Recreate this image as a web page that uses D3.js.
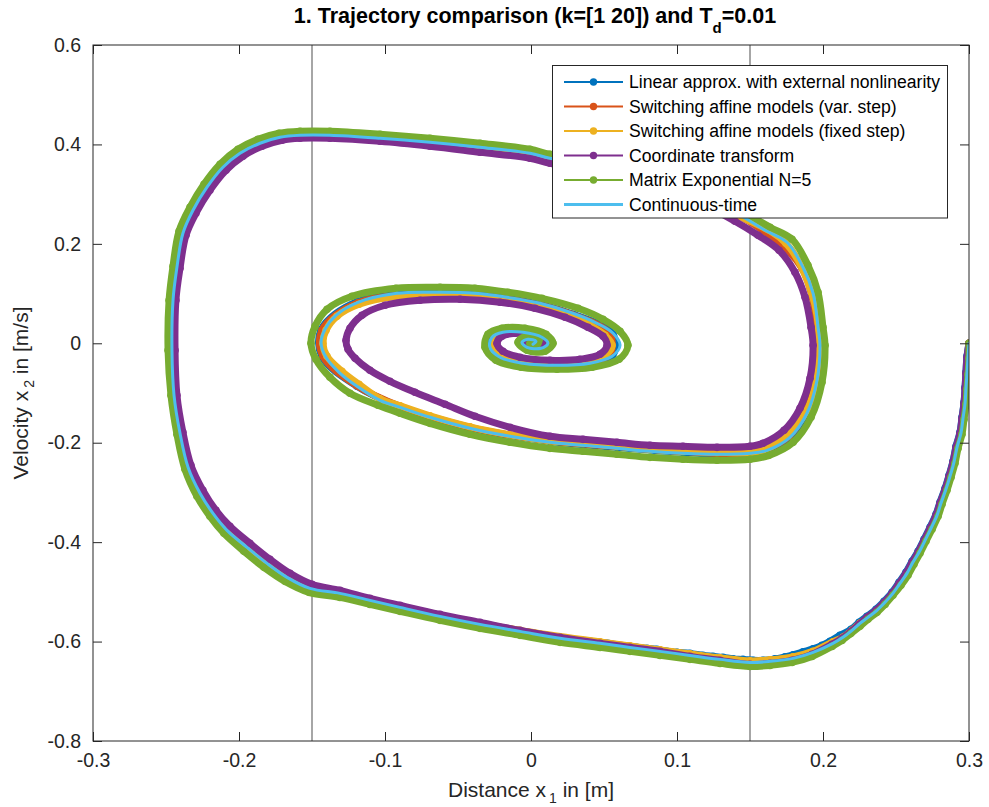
<!DOCTYPE html>
<html>
<head>
<meta charset="utf-8">
<script src="https://cdn.jsdelivr.net/npm/d3@7"></script>
<style>
  body { margin: 0; background: #fff; }
  svg { display: block; }
  text { font-family: "Liberation Sans", Arial, Helvetica, sans-serif; }
</style>
</head>
<body>
<svg id="chart" width="989" height="807"></svg>
<script>
// Axis ticks and labels
const xTicks = [-0.3, -0.2, -0.1, 0, 0.1, 0.2, 0.3];
const xTickLabels = ["-0.3", "-0.2", "-0.1", "0", "0.1", "0.2", "0.3"];
const yTicks = [-0.8, -0.6, -0.4, -0.2, 0, 0.2, 0.4, 0.6];
const yTickLabels = ["-0.8", "-0.6", "-0.4", "-0.2", "0", "0.2", "0.4", "0.6"];
// Switching boundaries of the affine models (x1 = +/-0.15 m)
const switchLines = [-0.15, 0.15];

const seriesNames = [
  "Linear approx. with external nonlinearity",
  "Switching affine models (var. step)",
  "Switching affine models (fixed step)",
  "Coordinate transform",
  "Matrix Exponential N=5",
  "Continuous-time"
];
const seriesColors = ["#0072BD", "#D95319", "#EDB120", "#7E2F8E", "#77AC30", "#4DBEEE"];

// State trajectories [x1, x2] (distance, velocity)
const linearApprox = [
  [0.3000,0.0000],[0.2986,-0.0262],[0.2979,-0.0584],[0.2973,-0.0885],[0.2966,-0.1187],[0.2952,-0.1489],
  [0.2938,-0.1791],[0.2911,-0.2073],[0.2890,-0.2374],[0.2863,-0.2656],[0.2836,-0.2918],[0.2801,-0.3199],
  [0.2774,-0.3441],[0.2733,-0.3702],[0.2692,-0.3944],[0.2651,-0.4185],[0.2610,-0.4386],[0.2568,-0.4608],
  [0.2521,-0.4809],[0.2473,-0.5010],[0.2418,-0.5191],[0.2363,-0.5352],[0.2301,-0.5493],[0.2247,-0.5614],
  [0.2192,-0.5755],[0.2116,-0.5875],[0.2048,-0.5996],[0.1993,-0.6077],[0.1932,-0.6147],[0.1863,-0.6207],
  [0.1795,-0.6268],[0.1740,-0.6308],[0.1671,-0.6348],[0.1589,-0.6378],[0.1521,-0.6378],[0.1452,-0.6358],
  [0.1384,-0.6348],[0.1315,-0.6318],[0.1247,-0.6298],[0.1178,-0.6278],[0.1089,-0.6237],[0.1000,-0.6217],
  [0.0932,-0.6197],[0.0863,-0.6157],[0.0795,-0.6137],[0.0726,-0.6117],[0.0658,-0.6097],[0.0596,-0.6076],
  [0.0527,-0.6036],[0.0199,-0.5915],[-0.0349,-0.5634],[-0.0897,-0.5292],[-0.1308,-0.5010],[-0.1671,-0.4708],
  [-0.1945,-0.4105],[-0.2178,-0.3421],[-0.2349,-0.2495],[-0.2445,-0.1046],[-0.2452,0.0865],[-0.2384,0.2213],
  [-0.2219,0.3139],[-0.1993,0.3823],[-0.1719,0.4145],[-0.1377,0.4185],[-0.0692,0.4044],[-0.0007,0.3823],
  [0.0473,0.3581],[0.1158,0.2978],[0.1603,0.2274],[0.1863,0.1529],[0.1966,0.0322],[0.1959,-0.0744],
  [0.1774,-0.1891],[0.1500,-0.2213],[0.1041,-0.2193],[0.0589,-0.2093],[0.0130,-0.1972],[-0.0418,-0.1700],
  [-0.0897,-0.1278],[-0.1192,-0.0865],[-0.1432,-0.0272],[-0.1438,0.0272],[-0.1192,0.0835],[-0.0623,0.1006],
  [-0.0164,0.0906],[0.0288,0.0584],[0.0562,0.0181],[0.0555,-0.0262],[0.0178,-0.0423],[-0.0212,-0.0262],
  [-0.0267,0.0121],[-0.0055,0.0201],[0.0116,0.0000],[-0.0027,-0.0080],[-0.0021,0.0080],[0.0014,-0.0020]
];

const affineVarStep = [
  [0.3000,0.0000],[0.2993,-0.0282],[0.2986,-0.0604],[0.2979,-0.0905],[0.2973,-0.1207],[0.2959,-0.1509],
  [0.2945,-0.1811],[0.2918,-0.2093],[0.2897,-0.2394],[0.2870,-0.2676],[0.2842,-0.2938],[0.2808,-0.3219],
  [0.2781,-0.3461],[0.2740,-0.3722],[0.2699,-0.3964],[0.2658,-0.4205],[0.2616,-0.4406],[0.2575,-0.4628],
  [0.2527,-0.4829],[0.2479,-0.5030],[0.2425,-0.5211],[0.2370,-0.5372],[0.2308,-0.5513],[0.2253,-0.5634],
  [0.2199,-0.5775],[0.2137,-0.5915],[0.2068,-0.6016],[0.1932,-0.6207],[0.1795,-0.6318],[0.1637,-0.6378],
  [0.1500,-0.6399],[0.1295,-0.6338],[0.1089,-0.6258],[0.0884,-0.6177],[0.0678,-0.6097],[0.0473,-0.6016],
  [0.0199,-0.5915],[-0.0349,-0.5634],[-0.0897,-0.5292],[-0.1308,-0.5010],[-0.1671,-0.4688],[-0.1945,-0.4085],
  [-0.2178,-0.3401],[-0.2349,-0.2475],[-0.2440,-0.1046],[-0.2447,0.0865],[-0.2378,0.2193],[-0.2212,0.3119],
  [-0.1986,0.3803],[-0.1719,0.4125],[-0.1377,0.4165],[-0.0692,0.4024],[-0.0007,0.3803],[0.0473,0.3561],
  [0.1151,0.2958],[0.1596,0.2254],[0.1856,0.1509],[0.1959,0.0322],[0.1952,-0.0744],[0.1767,-0.1871],
  [0.1500,-0.2193],[0.1041,-0.2173],[0.0589,-0.2073],[0.0130,-0.1962],[-0.0418,-0.1690],[-0.0897,-0.1268],
  [-0.1192,-0.0855],[-0.1425,-0.0262],[-0.1432,0.0262],[-0.1185,0.0815],[-0.0623,0.0986],[-0.0164,0.0886],
  [0.0274,0.0584],[0.0541,0.0181],[0.0534,-0.0241],[0.0171,-0.0402],[-0.0199,-0.0241],[-0.0253,0.0121],
  [-0.0048,0.0201],[0.0110,0.0000],[-0.0027,-0.0060],[-0.0014,0.0060],[0.0007,0.0000]
];

const affineFixedStep = [
  [0.3000,0.0000],[0.2993,-0.0282],[0.2986,-0.0604],[0.2979,-0.0905],[0.2973,-0.1207],[0.2959,-0.1509],
  [0.2945,-0.1811],[0.2918,-0.2093],[0.2897,-0.2394],[0.2870,-0.2676],[0.2842,-0.2938],[0.2808,-0.3219],
  [0.2781,-0.3461],[0.2740,-0.3722],[0.2699,-0.3964],[0.2658,-0.4205],[0.2616,-0.4406],[0.2575,-0.4628],
  [0.2527,-0.4829],[0.2479,-0.5030],[0.2425,-0.5211],[0.2370,-0.5372],[0.2308,-0.5513],[0.2253,-0.5634],
  [0.2199,-0.5775],[0.2137,-0.5915],[0.2068,-0.6006],[0.1932,-0.6197],[0.1795,-0.6308],[0.1637,-0.6368],
  [0.1500,-0.6389],[0.1295,-0.6328],[0.1089,-0.6248],[0.0884,-0.6167],[0.0678,-0.6087],[0.0473,-0.6006],
  [-0.0075,-0.5775],[-0.0623,-0.5473],[-0.1103,-0.5151],[-0.1514,-0.4910],[-0.1808,-0.4407],[-0.2082,-0.3743],
  [-0.2267,-0.2998],[-0.2404,-0.1791],[-0.2454,-0.0141],[-0.2420,0.1529],[-0.2310,0.2656],[-0.2105,0.3521],
  [-0.1851,0.4004],[-0.1582,0.4165],[-0.1034,0.4105],[-0.0349,0.3924],[0.0130,0.3702],[0.0815,0.3320],
  [0.1432,0.2555],[0.1746,0.2012],[0.1925,0.0986],[0.1972,-0.0040],[0.1883,-0.1388],[0.1609,-0.2133],
  [0.1274,-0.2193],[0.1041,-0.2173],[0.0815,-0.2133],[0.0589,-0.2073],[0.0356,-0.2012],[0.0130,-0.1962],
  [-0.0144,-0.1841],[-0.0418,-0.1680],[-0.0692,-0.1459],[-0.0897,-0.1258],[-0.1034,-0.1117],[-0.1178,-0.0825],
  [-0.1295,-0.0563],[-0.1397,-0.0262],[-0.1425,0.0000],[-0.1404,0.0262],[-0.1329,0.0543],[-0.1178,0.0785],
  [-0.0911,0.0946],[-0.0623,0.0966],[-0.0384,0.0946],[-0.0164,0.0865],[0.0048,0.0744],[0.0253,0.0563],
  [0.0404,0.0362],[0.0507,0.0161],[0.0555,-0.0040],[0.0507,-0.0241],[0.0370,-0.0362],[0.0164,-0.0382],
  [-0.0041,-0.0342],[-0.0192,-0.0221],[-0.0253,-0.0060],[-0.0240,0.0121],[-0.0171,0.0201],[-0.0048,0.0201],
  [0.0062,0.0121],[0.0103,0.0000],[0.0055,-0.0080],[-0.0027,-0.0060],[-0.0055,0.0020],[-0.0014,0.0080],
  [0.0027,0.0020],[0.0000,0.0000]
];

const coordTransform = [
  [0.3000,0.0000],[0.2986,-0.0282],[0.2979,-0.0604],[0.2973,-0.0905],[0.2966,-0.1207],[0.2952,-0.1509],
  [0.2938,-0.1811],[0.2911,-0.2093],[0.2890,-0.2394],[0.2863,-0.2676],[0.2836,-0.2938],[0.2801,-0.3219],
  [0.2774,-0.3461],[0.2733,-0.3722],[0.2692,-0.3964],[0.2651,-0.4205],[0.2610,-0.4406],[0.2568,-0.4628],
  [0.2521,-0.4829],[0.2473,-0.5030],[0.2418,-0.5211],[0.2363,-0.5372],[0.2301,-0.5513],[0.2247,-0.5654],
  [0.2192,-0.5795],[0.2130,-0.5936],[0.2062,-0.6056],[0.1925,-0.6258],[0.1788,-0.6378],[0.1637,-0.6439],
  [0.1500,-0.6459],[0.1295,-0.6378],[0.1089,-0.6298],[0.0884,-0.6197],[0.0678,-0.6117],[0.0473,-0.6036],
  [0.0199,-0.5915],[-0.0075,-0.5775],[-0.0349,-0.5614],[-0.0623,-0.5453],[-0.0897,-0.5272],[-0.1103,-0.5131],
  [-0.1308,-0.4970],[-0.1500,-0.4849],[-0.1651,-0.4628],[-0.1788,-0.4346],[-0.1925,-0.4024],[-0.2062,-0.3682],
  [-0.2158,-0.3360],[-0.2247,-0.2958],[-0.2329,-0.2455],[-0.2384,-0.1791],[-0.2425,-0.1046],[-0.2438,-0.0141],
  [-0.2432,0.0865],[-0.2404,0.1509],[-0.2363,0.2173],[-0.2295,0.2616],[-0.2199,0.3078],[-0.2089,0.3481],
  [-0.1973,0.3763],[-0.1842,0.3964],[-0.1705,0.4085],[-0.1582,0.4125],[-0.1377,0.4125],[-0.1034,0.4064],
  [-0.0692,0.3964],[-0.0349,0.3843],[-0.0007,0.3722],[0.0130,0.3622],[0.0473,0.3461],[0.0815,0.3199],
  [0.1137,0.2857],[0.1397,0.2455],[0.1555,0.2173],[0.1699,0.1871],[0.1808,0.1429],[0.1877,0.0926],
  [0.1918,0.0322],[0.1932,-0.0040],[0.1911,-0.0704],[0.1842,-0.1308],[0.1733,-0.1750],[0.1589,-0.2012],
  [0.1500,-0.2072],[0.1274,-0.2093],[0.1041,-0.2072],[0.0815,-0.2052],[0.0589,-0.1992],[0.0356,-0.1932],
  [0.0130,-0.1871],[-0.0144,-0.1690],[-0.0384,-0.1469],[-0.0589,-0.1227],[-0.0795,-0.0986],[-0.0966,-0.0765],
  [-0.1103,-0.0543],[-0.1205,-0.0302],[-0.1253,-0.0121],[-0.1267,0.0060],[-0.1240,0.0302],[-0.1158,0.0563],
  [-0.1000,0.0765],[-0.0760,0.0865],[-0.0486,0.0885],[-0.0212,0.0825],[0.0027,0.0704],[0.0233,0.0523],
  [0.0390,0.0322],[0.0493,0.0141],[0.0521,-0.0040],[0.0473,-0.0221],[0.0336,-0.0322],[0.0130,-0.0342],
  [-0.0075,-0.0282],[-0.0192,-0.0161],[-0.0233,0.0000],[-0.0199,0.0141],[-0.0110,0.0201],[0.0007,0.0181],
  [0.0082,0.0080],[0.0075,-0.0040],[0.0014,-0.0080],[-0.0027,-0.0020],[-0.0007,0.0060],[0.0034,0.0040],
  [0.0021,0.0000]
];

const matrixExp = [
  [0.3000,0.0000],[0.3000,-0.0302],[0.2993,-0.0624],[0.2986,-0.0926],[0.2979,-0.1227],[0.2966,-0.1529],
  [0.2952,-0.1831],[0.2925,-0.2113],[0.2904,-0.2414],[0.2877,-0.2696],[0.2849,-0.2958],[0.2815,-0.3239],
  [0.2788,-0.3481],[0.2747,-0.3742],[0.2705,-0.3984],[0.2664,-0.4225],[0.2623,-0.4447],[0.2582,-0.4668],
  [0.2534,-0.4869],[0.2479,-0.5070],[0.2425,-0.5252],[0.2370,-0.5412],[0.2308,-0.5553],[0.2253,-0.5694],
  [0.2192,-0.5835],[0.2130,-0.5976],[0.2062,-0.6097],[0.1925,-0.6298],[0.1788,-0.6419],[0.1637,-0.6479],
  [0.1500,-0.6499],[0.1295,-0.6439],[0.1089,-0.6358],[0.0884,-0.6278],[0.0678,-0.6197],[0.0473,-0.6117],
  [0.0199,-0.6016],[-0.0075,-0.5875],[-0.0349,-0.5734],[-0.0623,-0.5573],[-0.0897,-0.5392],[-0.1103,-0.5252],
  [-0.1308,-0.5111],[-0.1521,-0.5010],[-0.1685,-0.4789],[-0.1829,-0.4507],[-0.1966,-0.4185],[-0.2103,-0.3823],
  [-0.2199,-0.3481],[-0.2288,-0.3078],[-0.2370,-0.2535],[-0.2425,-0.1831],[-0.2466,-0.1046],[-0.2486,-0.0141],
  [-0.2479,0.0865],[-0.2452,0.1549],[-0.2411,0.2254],[-0.2336,0.2736],[-0.2240,0.3199],[-0.2130,0.3602],
  [-0.2007,0.3903],[-0.1870,0.4105],[-0.1726,0.4225],[-0.1582,0.4266],[-0.1377,0.4266],[-0.1034,0.4205],
  [-0.0692,0.4125],[-0.0349,0.4024],[-0.0007,0.3903],[0.0130,0.3803],[0.0473,0.3662],[0.0829,0.3421],
  [0.1178,0.3058],[0.1459,0.2636],[0.1637,0.2334],[0.1788,0.2093],[0.1897,0.1569],[0.1966,0.1026],
  [0.2000,0.0322],[0.2014,-0.0040],[0.1993,-0.0785],[0.1918,-0.1489],[0.1795,-0.1992],[0.1630,-0.2254],
  [0.1500,-0.2334],[0.1274,-0.2354],[0.1041,-0.2334],[0.0815,-0.2294],[0.0589,-0.2233],[0.0356,-0.2173],
  [0.0130,-0.2113],[-0.0144,-0.1992],[-0.0418,-0.1831],[-0.0692,-0.1610],[-0.0897,-0.1408],[-0.1048,-0.1247],
  [-0.1240,-0.1006],[-0.1377,-0.0684],[-0.1473,-0.0322],[-0.1507,0.0000],[-0.1479,0.0342],[-0.1397,0.0684],
  [-0.1226,0.0946],[-0.0925,0.1107],[-0.0623,0.1127],[-0.0384,0.1107],[-0.0158,0.1026],[0.0075,0.0905],
  [0.0322,0.0704],[0.0493,0.0483],[0.0610,0.0241],[0.0664,-0.0040],[0.0603,-0.0322],[0.0418,-0.0483],
  [0.0178,-0.0523],[-0.0068,-0.0483],[-0.0240,-0.0342],[-0.0315,-0.0080],[-0.0295,0.0181],[-0.0199,0.0302],
  [-0.0041,0.0302],[0.0103,0.0181],[0.0151,0.0000],[0.0096,-0.0161],[-0.0027,-0.0141],[-0.0089,0.0020],
  [-0.0034,0.0141],[0.0055,0.0080],[0.0034,-0.0060],[-0.0007,0.0000]
];

const continuousTime = [
  [0.3000,0.0000],[0.2993,-0.0282],[0.2986,-0.0604],[0.2979,-0.0905],[0.2973,-0.1207],[0.2959,-0.1509],
  [0.2945,-0.1811],[0.2918,-0.2093],[0.2897,-0.2394],[0.2870,-0.2676],[0.2842,-0.2938],[0.2808,-0.3219],
  [0.2781,-0.3461],[0.2740,-0.3722],[0.2699,-0.3964],[0.2658,-0.4205],[0.2616,-0.4406],[0.2575,-0.4628],
  [0.2527,-0.4829],[0.2479,-0.5030],[0.2425,-0.5211],[0.2370,-0.5372],[0.2308,-0.5513],[0.2253,-0.5634],
  [0.2199,-0.5775],[0.2137,-0.5915],[0.2068,-0.6036],[0.1932,-0.6217],[0.1795,-0.6338],[0.1637,-0.6398],
  [0.1500,-0.6419],[0.1295,-0.6358],[0.1089,-0.6278],[0.0884,-0.6197],[0.0678,-0.6117],[0.0473,-0.6036],
  [0.0199,-0.5935],[-0.0075,-0.5795],[-0.0349,-0.5654],[-0.0623,-0.5493],[-0.0897,-0.5312],[-0.1103,-0.5171],
  [-0.1308,-0.5030],[-0.1514,-0.4930],[-0.1671,-0.4708],[-0.1808,-0.4427],[-0.1945,-0.4105],[-0.2082,-0.3763],
  [-0.2178,-0.3421],[-0.2267,-0.3018],[-0.2349,-0.2495],[-0.2404,-0.1811],[-0.2445,-0.1046],[-0.2459,-0.0141],
  [-0.2452,0.0865],[-0.2425,0.1529],[-0.2384,0.2213],[-0.2315,0.2676],[-0.2219,0.3139],[-0.2110,0.3541],
  [-0.1993,0.3823],[-0.1856,0.4024],[-0.1719,0.4145],[-0.1582,0.4185],[-0.1377,0.4185],[-0.1034,0.4125],
  [-0.0692,0.4044],[-0.0349,0.3944],[-0.0007,0.3823],[0.0130,0.3722],[0.0473,0.3581],[0.0815,0.3340],
  [0.1158,0.2978],[0.1432,0.2575],[0.1603,0.2274],[0.1753,0.2032],[0.1863,0.1529],[0.1932,0.1006],
  [0.1966,0.0322],[0.1979,-0.0040],[0.1959,-0.0744],[0.1890,-0.1408],[0.1774,-0.1891],[0.1616,-0.2153],
  [0.1500,-0.2213],[0.1274,-0.2233],[0.1041,-0.2213],[0.0815,-0.2173],[0.0589,-0.2113],[0.0356,-0.2052],
  [0.0130,-0.1992],[-0.0144,-0.1871],[-0.0418,-0.1710],[-0.0692,-0.1489],[-0.0897,-0.1288],[-0.1034,-0.1147],
  [-0.1192,-0.0865],[-0.1315,-0.0584],[-0.1404,-0.0282],[-0.1438,0.0000],[-0.1411,0.0282],[-0.1336,0.0563],
  [-0.1185,0.0825],[-0.0918,0.1006],[-0.0623,0.1026],[-0.0384,0.1006],[-0.0164,0.0926],[0.0062,0.0805],
  [0.0288,0.0604],[0.0452,0.0402],[0.0562,0.0201],[0.0610,-0.0040],[0.0555,-0.0262],[0.0404,-0.0402],
  [0.0178,-0.0443],[-0.0055,-0.0402],[-0.0212,-0.0282],[-0.0281,-0.0080],[-0.0267,0.0121],[-0.0192,0.0221],
  [-0.0055,0.0221],[0.0075,0.0121],[0.0116,0.0000],[0.0068,-0.0101],[-0.0027,-0.0080],[-0.0062,0.0020],
  [-0.0021,0.0080],[0.0034,0.0040],[0.0014,-0.0020]
];

const seriesData = [linearApprox, affineVarStep, affineFixedStep, coordTransform, matrixExp, continuousTime];

// ---- layout ----
const plot = { left: 93, right: 969, top: 45, bottom: 741 };
const svg = d3.select("#chart");
const x = d3.scaleLinear().domain([-0.3, 0.3]).range([plot.left, plot.right]);
const y = d3.scaleLinear().domain([-0.8, 0.6]).range([plot.bottom, plot.top]);
const axisColor = "#262626";
const tickFont = 19.5;

svg.append("defs").append("clipPath").attr("id", "plotClip")
  .append("rect").attr("x", plot.left).attr("y", plot.top)
  .attr("width", plot.right - plot.left).attr("height", plot.bottom - plot.top);

// switching boundaries
svg.append("g").selectAll("line").data(switchLines).join("line")
  .attr("x1", d => x(d)).attr("x2", d => x(d))
  .attr("y1", plot.top).attr("y2", plot.bottom)
  .attr("stroke", "#808080").attr("stroke-width", 1.4);

// trajectories
const line = d3.line().x(d => x(d[0])).y(d => y(d[1])).curve(d3.curveCatmullRom.alpha(0.5));
const traj = svg.append("g").attr("clip-path", "url(#plotClip)");
seriesData.forEach((data, i) => {
  const g = traj.append("g");
  if (i < 5) {
    // discrete-time runs: dots at every step overlap into a solid trace
    g.append("path").datum(data).attr("d", line)
      .attr("fill", "none").attr("stroke", seriesColors[i])
      .attr("stroke-width", 7).attr("stroke-linejoin", "round").attr("stroke-linecap", "round");
    g.selectAll("circle").data(data).join("circle")
      .attr("cx", d => x(d[0])).attr("cy", d => y(d[1])).attr("r", 3.8)
      .attr("fill", seriesColors[i]);
  } else {
    g.append("path").datum(data).attr("d", line)
      .attr("fill", "none").attr("stroke", seriesColors[i])
      .attr("stroke-width", 3).attr("stroke-linejoin", "round").attr("stroke-linecap", "round");
  }
});

// axes (ticks pointing inward, box on)
function styleAxis(g) {
  g.select(".domain").remove();
  g.selectAll(".tick line").attr("stroke", axisColor).attr("stroke-width", 1);
  g.selectAll(".tick text").attr("fill", axisColor)
    .attr("font-family", '"Liberation Sans", Arial, sans-serif').attr("font-size", tickFont);
}
svg.append("g").attr("transform", `translate(0,${plot.bottom})`)
  .call(d3.axisBottom(x).tickValues(xTicks).tickFormat((d, i) => xTickLabels[i])
    .tickSizeInner(-9).tickSizeOuter(0).tickPadding(12))
  .call(styleAxis);
svg.append("g").attr("transform", `translate(0,${plot.top})`)
  .call(d3.axisTop(x).tickValues(xTicks).tickFormat("").tickSizeInner(-9).tickSizeOuter(0))
  .call(styleAxis);
svg.append("g").attr("transform", `translate(${plot.left},0)`)
  .call(d3.axisLeft(y).tickValues(yTicks).tickFormat((d, i) => yTickLabels[i])
    .tickSizeInner(-9).tickSizeOuter(0).tickPadding(12))
  .call(styleAxis);
svg.append("g").attr("transform", `translate(${plot.right},0)`)
  .call(d3.axisRight(y).tickValues(yTicks).tickFormat("").tickSizeInner(-9).tickSizeOuter(0))
  .call(styleAxis);
svg.append("rect").attr("x", plot.left).attr("y", plot.top)
  .attr("width", plot.right - plot.left).attr("height", plot.bottom - plot.top)
  .attr("fill", "none").attr("stroke", axisColor).attr("stroke-width", 1);

// title
const title = svg.append("text").attr("x", 535).attr("y", 23)
  .attr("text-anchor", "middle").attr("font-size", 21.5).attr("font-weight", "bold").attr("fill", "#000");
title.append("tspan").text("1. Trajectory comparison (k=[1 20]) and T");
title.append("tspan").attr("font-size", 15).attr("dy", 10).text("d");
title.append("tspan").attr("dy", -10).text("=0.01");

// axis labels
const xl = svg.append("text").attr("x", 531).attr("y", 797)
  .attr("text-anchor", "middle").attr("font-size", 21).attr("fill", axisColor);
xl.append("tspan").text("Distance x");
xl.append("tspan").attr("font-size", 14).attr("dy", 6).attr("dx", 3).text("1");
xl.append("tspan").attr("dy", -6).text(" in [m]");

const yl = svg.append("text").attr("transform", `translate(28,${(plot.top + plot.bottom) / 2}) rotate(-90)`)
  .attr("text-anchor", "middle").attr("font-size", 21).attr("fill", axisColor);
yl.append("tspan").text("Velocity x");
yl.append("tspan").attr("font-size", 14).attr("dy", 6).attr("dx", 3).text("2");
yl.append("tspan").attr("dy", -6).text(" in [m/s]");

// legend
const lg = svg.append("g");
lg.append("rect").attr("x", 552.5).attr("y", 65.5).attr("width", 395).attr("height", 152.5)
  .attr("fill", "#fff").attr("stroke", axisColor).attr("stroke-width", 1);
const rowY = i => 82 + i * 24.5;
seriesNames.forEach((name, i) => {
  const row = lg.append("g");
  row.append("line").attr("x1", 564).attr("x2", 623).attr("y1", rowY(i)).attr("y2", rowY(i))
    .attr("stroke", seriesColors[i]).attr("stroke-width", i < 5 ? 2 : 3);
  if (i < 5) row.append("circle").attr("cx", 593.5).attr("cy", rowY(i)).attr("r", 3.7).attr("fill", seriesColors[i]);
  row.append("text").attr("x", 629).attr("y", rowY(i)).attr("dy", "0.35em")
    .attr("font-size", 17.6).attr("fill", "#000").text(name);
});
</script>
</body>
</html>
